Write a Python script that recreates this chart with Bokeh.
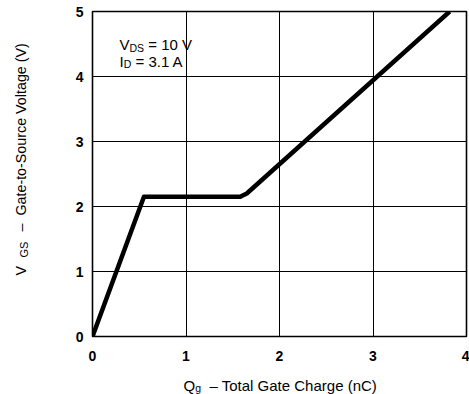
import math
from bokeh.plotting import figure
from bokeh.models import Range1d, FixedTicker
from bokeh.embed import file_html
from bokeh.resources import INLINE

# ---- data ----
qg_nc = [0.0, 0.55, 1.58, 1.65, 3.82]
vgs_v = [0.0, 2.15, 2.15, 2.20, 5.0]
x_ticks = [0, 1, 2, 3, 4]
y_ticks = [0, 1, 2, 3, 4, 5]
cond_lines = [("V", "DS", "= 10 V"), ("I", "D", "= 3.1 A")]
x_label = ("Q", "g", "\u2013 Total Gate Charge (nC)")
y_label = ("V", "GS", "\u2013\u00a0 Gate-to-Source Voltage (V)")

W, H = 469, 394
BL, BR, BT, BB = 92, 3, 11, 58
FW, FH = W - BL - BR, H - BT - BB
XMAX, YMAX = 4, 5
FONT = "Liberation Sans"

p = figure(width=W, height=H, output_backend="svg", toolbar_location=None,
           x_range=Range1d(0, XMAX), y_range=Range1d(0, YMAX),
           min_border_left=BL, min_border_right=BR,
           min_border_top=BT, min_border_bottom=BB)
p.background_fill_color = "white"
p.border_fill_color = "white"
p.outline_line_color = "black"
p.outline_line_width = 1.6

for ax, ticks, so in ((p.xaxis[0], x_ticks, 14), (p.yaxis[0], y_ticks, 9)):
    ax.ticker = FixedTicker(ticks=ticks)
    ax.axis_line_color = None
    ax.major_tick_line_color = None
    ax.minor_tick_line_color = None
    ax.major_tick_out = 0
    ax.major_tick_in = 0
    ax.major_label_standoff = so
    ax.major_label_text_font = FONT
    ax.major_label_text_font_size = "14px"
    ax.major_label_text_font_style = "bold"
    ax.major_label_text_color = "black"

p.xgrid.ticker = FixedTicker(ticks=x_ticks)
p.ygrid.ticker = FixedTicker(ticks=y_ticks)
for g in (p.xgrid[0], p.ygrid[0]):
    g.grid_line_color = "black"
    g.grid_line_width = 1
    g.grid_line_alpha = 1

p.line(qg_nc, vgs_v, line_color="black", line_width=4.5, line_join="round")


def dx(cx):
    return (cx - BL) / FW * XMAX


def dy(cy):
    return (BT + FH - cy) / FH * YMAX


def add(text, cx, cy, size, angle=0.0):
    p.text(x=[dx(cx)], y=[dy(cy)], text=[text], angle=angle,
           text_font={"value": FONT}, text_font_size=f"{size}px",
           text_color="black", text_align="left",
           text_baseline="alphabetic", level="overlay")


# conditions text
lx = 119
for i, (a, b, c) in enumerate(cond_lines):
    by = 44 + 16.5 * i
    w_main = {"V": 10.0, "I": 4.2}[a]
    w_sub = {"DS": 14.6, "D": 7.6}[b]
    add(a, lx, by, 15)
    add(b, lx + w_main, by + 3, 10.5)
    add(c, lx + w_main + w_sub + 4.2, by, 15)

# x axis label
sx, sy = 183, 384.5
add(x_label[0], sx, sy, 15)
add(x_label[1], sx + 11.7, sy + 3, 10.5)
add(x_label[2], 209, sy, 15)

# y axis label (rotated, reads upward)
ax_x = 20.5
add(y_label[0], ax_x, 275, 14.3, math.pi / 2)
add(y_label[1], ax_x + 3, 257, 11, math.pi / 2)
add(y_label[2], ax_x, 231, 14.3, math.pi / 2)

open("out.html", "w").write(file_html(p, INLINE))
